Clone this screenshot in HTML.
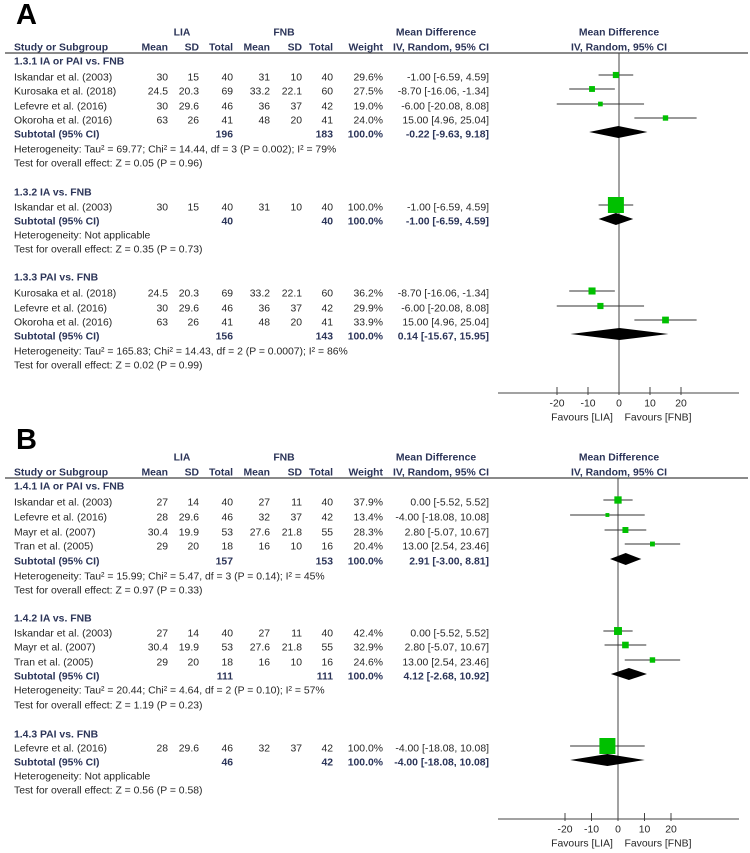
<!DOCTYPE html>
<html><head><meta charset="utf-8">
<style>
html,body{margin:0;padding:0;background:#fff;}
svg{display:block;font-family:"Liberation Sans",Arial,sans-serif;}
.t{font-size:10.4px;fill:#262626;}
.b{font-size:10.4px;fill:#2b3458;font-weight:bold;}
</style></head>
<body>
<svg id="c" width="750" height="853" viewBox="0 0 750 853"></svg>
<script>
// Panel A data
const aStudyY = [78,92,107,121, 208, 294,309,323];
const aMD = [-1.00,-8.70,-6.00,15.00, -1.00, -8.70,-6.00,15.00];
const aLo = [-6.59,-16.06,-20.08,4.96, -6.59, -16.06,-20.08,4.96];
const aHi = [4.59,-1.34,8.08,25.04, 4.59, -1.34,8.08,25.04];
const aW = [29.6,27.5,19.0,24.0, 100.0, 36.2,29.9,33.9];
const aSubY = [135,222,337];
const aSubMD = [-0.22,-1.00,0.14];
const aSubLo = [-9.63,-6.59,-15.67];
const aSubHi = [9.18,4.59,15.95];
// Panel B data
const bStudyY = [503,518,533,547, 634,648,663, 749];
const bMD = [0.00,-4.00,2.80,13.00, 0.00,2.80,13.00, -4.00];
const bLo = [-5.52,-18.08,-5.07,2.54, -5.52,-5.07,2.54, -18.08];
const bHi = [5.52,10.08,10.67,23.46, 5.52,10.67,23.46, 10.08];
const bW = [37.9,13.4,28.3,20.4, 42.4,32.9,24.6, 100.0];
const bSubY = [562,677,763];
const bSubMD = [2.91,4.12,-4.00];
const bSubLo = [-3.00,-2.68,-18.08];
const bSubHi = [8.81,10.92,10.08];
const tickVals = [-20,-10,0,10,20];
const tickLabels = ['-20','-10','0','10','20'];

const aRows = [
 ['g',62,'1.3.1 IA or PAI vs. FNB'],
 ['s',78,['Iskandar et al. (2003)','30','15','40','31','10','40','29.6%','-1.00 [-6.59, 4.59]']],
 ['s',92,['Kurosaka et al. (2018)','24.5','20.3','69','33.2','22.1','60','27.5%','-8.70 [-16.06, -1.34]']],
 ['s',107,['Lefevre et al. (2016)','30','29.6','46','36','37','42','19.0%','-6.00 [-20.08, 8.08]']],
 ['s',121,['Okoroha et al. (2016)','63','26','41','48','20','41','24.0%','15.00 [4.96, 25.04]']],
 ['u',135,['Subtotal (95% CI)','','','196','','','183','100.0%','-0.22 [-9.63, 9.18]']],
 ['h',150,'Heterogeneity: Tau² = 69.77; Chi² = 14.44, df = 3 (P = 0.002); I² = 79%'],
 ['h',164,'Test for overall effect: Z = 0.05 (P = 0.96)'],
 ['g',193,'1.3.2 IA vs. FNB'],
 ['s',208,['Iskandar et al. (2003)','30','15','40','31','10','40','100.0%','-1.00 [-6.59, 4.59]']],
 ['u',222,['Subtotal (95% CI)','','','40','','','40','100.0%','-1.00 [-6.59, 4.59]']],
 ['h',236,'Heterogeneity: Not applicable'],
 ['h',250,'Test for overall effect: Z = 0.35 (P = 0.73)'],
 ['g',278,'1.3.3 PAI vs. FNB'],
 ['s',294,['Kurosaka et al. (2018)','24.5','20.3','69','33.2','22.1','60','36.2%','-8.70 [-16.06, -1.34]']],
 ['s',309,['Lefevre et al. (2016)','30','29.6','46','36','37','42','29.9%','-6.00 [-20.08, 8.08]']],
 ['s',323,['Okoroha et al. (2016)','63','26','41','48','20','41','33.9%','15.00 [4.96, 25.04]']],
 ['u',337,['Subtotal (95% CI)','','','156','','','143','100.0%','0.14 [-15.67, 15.95]']],
 ['h',352,'Heterogeneity: Tau² = 165.83; Chi² = 14.43, df = 2 (P = 0.0007); I² = 86%'],
 ['h',366,'Test for overall effect: Z = 0.02 (P = 0.99)']
];
const bRows = [
 ['g',487,'1.4.1 IA or PAI vs. FNB'],
 ['s',503,['Iskandar et al. (2003)','27','14','40','27','11','40','37.9%','0.00 [-5.52, 5.52]']],
 ['s',518,['Lefevre et al. (2016)','28','29.6','46','32','37','42','13.4%','-4.00 [-18.08, 10.08]']],
 ['s',533,['Mayr et al. (2007)','30.4','19.9','53','27.6','21.8','55','28.3%','2.80 [-5.07, 10.67]']],
 ['s',547,['Tran et al. (2005)','29','20','18','16','10','16','20.4%','13.00 [2.54, 23.46]']],
 ['u',562,['Subtotal (95% CI)','','','157','','','153','100.0%','2.91 [-3.00, 8.81]']],
 ['h',577,'Heterogeneity: Tau² = 15.99; Chi² = 5.47, df = 3 (P = 0.14); I² = 45%'],
 ['h',591,'Test for overall effect: Z = 0.97 (P = 0.33)'],
 ['g',619,'1.4.2 IA vs. FNB'],
 ['s',634,['Iskandar et al. (2003)','27','14','40','27','11','40','42.4%','0.00 [-5.52, 5.52]']],
 ['s',648,['Mayr et al. (2007)','30.4','19.9','53','27.6','21.8','55','32.9%','2.80 [-5.07, 10.67]']],
 ['s',663,['Tran et al. (2005)','29','20','18','16','10','16','24.6%','13.00 [2.54, 23.46]']],
 ['u',677,['Subtotal (95% CI)','','','111','','','111','100.0%','4.12 [-2.68, 10.92]']],
 ['h',691,'Heterogeneity: Tau² = 20.44; Chi² = 4.64, df = 2 (P = 0.10); I² = 57%'],
 ['h',706,'Test for overall effect: Z = 1.19 (P = 0.23)'],
 ['g',735,'1.4.3 PAI vs. FNB'],
 ['s',749,['Lefevre et al. (2016)','28','29.6','46','32','37','42','100.0%','-4.00 [-18.08, 10.08]']],
 ['u',763,['Subtotal (95% CI)','','','46','','','42','100.0%','-4.00 [-18.08, 10.08]']],
 ['h',777,'Heterogeneity: Not applicable'],
 ['h',791,'Test for overall effect: Z = 0.56 (P = 0.58)']
];

const NS='http://www.w3.org/2000/svg';
const svg=document.getElementById('c');
function mk(tag,attrs,parent){const e=document.createElementNS(NS,tag);for(const k in attrs)e.setAttribute(k,attrs[k]);(parent||svg).appendChild(e);return e;}
function txt(x,y,s,cls,anchor,name,parent){const e=mk('text',{x:x,y:y,class:cls,'text-anchor':anchor||'start','dominant-baseline':'central'},parent);e.textContent=s;


return e;}
const colX=[14,168,199,233,270,302,333,383,489];
const colA=['start','end','end','end','end','end','end','end','end'];

function panel(p){
  const g=mk('g',{});
  
  
  const L=mk('text',{x:16,y:p.top+24,'font-size':'29','font-weight':'bold',fill:'#000'},g);L.textContent=p.id;
  
  
  const hy1=p.top+33, hy2=p.top+48;
  txt(182,hy1,'LIA','b','middle','lia-header',g);
  txt(284,hy1,'FNB','b','middle','fnb-header',g);
  txt(436,hy1,'Mean Difference','b','middle','md-header',g);
  txt(619,hy1,'Mean Difference','b','middle','plot-header',g);
  const hdr=['Study or Subgroup','Mean','SD','Total','Mean','SD','Total','Weight','IV, Random, 95% CI'];
  hdr.forEach((h,i)=>txt(colX[i],hy2,h,'b',colA[i],'column-header',g));
  txt(619,hy2,'IV, Random, 95% CI','b','middle','plot-subheader',g);
  const hl=mk('line',{x1:5,x2:748,y1:p.top+53,y2:p.top+53,stroke:'#444','stroke-width':1.2},g);
  
  
  p.rows.forEach(r=>{
    if(r[0]==='g') txt(14,r[1],r[2],'b','start','subgroup-title',g);
    else if(r[0]==='h') txt(14,r[1],r[2],'t','start','stat-line',g);
    else r[2].forEach((s,i)=>{ if(s!=='') txt(colX[i],r[1],s,r[0]==='u'?'b':'t',colA[i],r[0]==='u'?'subtotal-cell':'study-cell',g);});
  });
  const X=v=>p.zero+v*p.scale;
  const vl=mk('line',{x1:X(0),x2:X(0),y1:p.top+53,y2:p.axisY,stroke:'#444','stroke-width':1},g);
  
  
  p.sy.forEach((y,i)=>{
    const yy=y-3;
    const ci=mk('line',{x1:X(p.lo[i]),x2:X(p.hi[i]),y1:yy,y2:yy,stroke:'#333','stroke-width':1},g);
    
    
    const s=2+14*p.w[i]/100;
    const sq=mk('rect',{x:X(p.md[i])-s/2,y:yy-s/2,width:s,height:s,fill:'#00c000'},g);
    
    
  });
  p.uy.forEach((y,i)=>{
    const yy=y-3;
    const d=mk('polygon',{points:`${X(p.ulo[i])},${yy} ${X(p.umd[i])},${yy-6} ${X(p.uhi[i])},${yy} ${X(p.umd[i])},${yy+6}`,fill:'#000'},g);
    
    
  });
  const ax=mk('line',{x1:498,x2:739,y1:p.axisY,y2:p.axisY,stroke:'#444','stroke-width':1},g);
  
  
  tickVals.forEach((v,i)=>{
    const t=mk('line',{x1:X(v),x2:X(v),y1:p.axisY-6,y2:p.axisY+2,stroke:'#444','stroke-width':1},g);
    
    
    txt(X(v),p.axisY+11,tickLabels[i],'t','middle','x-tick-label',g);
  });
  txt(582,p.axisY+25,'Favours [LIA]','t','middle','favours-lia-label',g);
  txt(658,p.axisY+25,'Favours [FNB]','t','middle','favours-fnb-label',g);
}
panel({id:'A',top:0,rows:aRows,zero:619,scale:3.1,axisY:393,sy:aStudyY,md:aMD,lo:aLo,hi:aHi,w:aW,uy:aSubY,umd:aSubMD,ulo:aSubLo,uhi:aSubHi});
panel({id:'B',top:425,rows:bRows,zero:618,scale:2.65,axisY:819,sy:bStudyY,md:bMD,lo:bLo,hi:bHi,w:bW,uy:bSubY,umd:bSubMD,ulo:bSubLo,uhi:bSubHi});
</script>
</body></html>
